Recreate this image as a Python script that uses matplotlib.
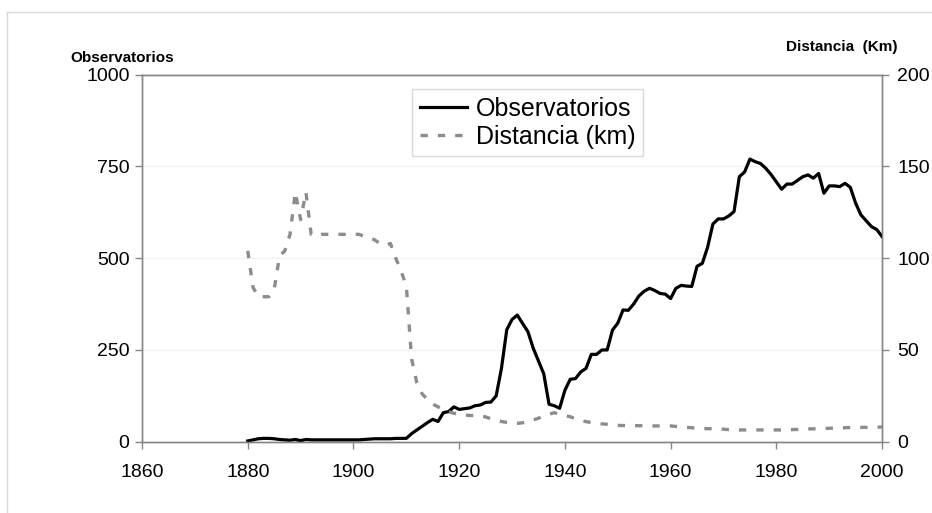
import numpy as np
import matplotlib
matplotlib.use("Agg")
import matplotlib.pyplot as plt
from matplotlib.lines import Line2D

plt.rcParams['font.family'] = ['Liberation Sans', 'DejaVu Sans']

years = list(range(1880, 2001))

# numero de observatorios (eje izquierdo)
observatorios = [
    2, 5, 8, 9, 9, 8, 6, 5, 4, 6,            # 1880-1889
    3, 6, 5, 5, 5, 5, 5, 5, 5, 5,            # 1890-1899
    5, 5, 6, 7, 8, 8, 8, 8, 9, 9,            # 1900-1909
    9, 22, 32, 42, 52, 61, 55, 79, 82, 95,   # 1910-1919
    88, 90, 92, 98, 100, 107, 108, 125, 200, 305,   # 1920-1929
    333, 345, 322, 300, 255, 220, 185, 102, 98, 91,  # 1930-1939
    140, 170, 172, 190, 200, 238, 238, 250, 250, 304,  # 1940-1949
    323, 359, 358, 375, 397, 410, 418, 412, 404, 402,  # 1950-1959
    390, 418, 426, 424, 423, 478, 486, 530, 593, 607,  # 1960-1969
    607, 615, 627, 722, 735, 770, 763, 758, 745, 728,  # 1970-1979
    708, 688, 702, 702, 712, 722, 727, 718, 731, 677,  # 1980-1989
    697, 697, 695, 704, 693, 650, 618, 602, 586, 578,  # 1990-1999
    559,                                               # 2000
]

# distancia media en km (eje derecho)
distancia = [
    104, 84, 79, 79, 79, 83, 101, 104, 113, 136,
    121, 136, 113, 112, 113, 113, 113, 113, 113, 113,
    113, 113, 112, 111, 110, 108, 107, 108, 100, 93,
    85, 45, 32, 26, 23, 20.5, 19, 17.5, 16.3, 15.5,
    15, 14.5, 14.3, 14.2, 14, 13.5, 12.5, 11.5, 11, 10.5,
    10, 10, 10.3, 11, 11.8, 12.8, 14, 15, 15.8, 15,
    14.3, 13.6, 12.5, 11.7, 10.9, 10.5, 10, 9.7, 9.5, 9.2,
    8.9, 8.8, 8.8, 8.8, 8.7, 8.7, 8.6, 8.6, 8.6, 8.6,
    8.6, 8.3, 8, 7.8, 7.6, 7.4, 7.2, 7.1, 7, 6.9,
    6.8, 6.6, 6.5, 6.4, 6.4, 6.4, 6.4, 6.4, 6.4, 6.4,
    6.4, 6.4, 6.5, 6.6, 6.7, 6.9, 7, 7, 7.1, 7.2,
    7.3, 7.4, 7.5, 7.6, 7.7, 7.8, 7.8, 7.8, 7.8, 7.9,
    8,
]

x_ticks = [1860, 1880, 1900, 1920, 1940, 1960, 1980, 2000]
y_ticks_izq = [0, 250, 500, 750, 1000]
y_ticks_der = [0, 50, 100, 150, 200]

gris = '#868686'

fig = plt.figure(figsize=(9.32, 5.13), dpi=100)
ax = fig.add_axes([0.1524, 0.139, 0.794, 0.7154])
ax2 = ax.twinx()

ax.plot(years, observatorios, color='black', lw=2.3, solid_joinstyle='round', zorder=3)
ax2.plot(years, distancia, color='#8c8c8c', lw=2.4, dashes=(2.2, 3.0), zorder=2)

ax.set_xlim(1860, 2000)
ax.set_ylim(0, 1000)
ax2.set_ylim(0, 200)
ax.set_xticks(x_ticks)
ax.set_yticks(y_ticks_izq)
ax2.set_yticks(y_ticks_der)

for a in (ax, ax2):
    for s in a.spines.values():
        s.set_color(gris)
        s.set_linewidth(1)
    a.tick_params(direction='out', length=5, color=gris, labelsize=14, width=1)

ax.tick_params(axis='x', pad=11)
ax.tick_params(axis='y', pad=4)
ax2.tick_params(axis='y', pad=6)

for v in [250, 500, 750]:
    ax.axhline(v, color='#f0f0f0', lw=1, zorder=0)

fig.text(70 / 932, 1 - 58 / 513, 'Observatorios', fontsize=11, fontweight='bold',
         ha='left', va='center')
fig.text(898 / 932, 1 - 47 / 513, 'Distancia  (Km)', fontsize=11, fontweight='bold',
         ha='right', va='center')

handles = [Line2D([], [], color='black', lw=2.3),
           Line2D([], [], color='#8c8c8c', lw=2.4, dashes=(2.2, 3.0))]
leg = ax.legend(handles, ['Observatorios', 'Distancia (km)'], loc='upper left',
                bbox_to_anchor=(0.365, 0.96), fontsize=18, frameon=True,
                fancybox=False, edgecolor='#d9d9d9', framealpha=1,
                handlelength=1.9, handletextpad=0.35, borderpad=0.3,
                labelspacing=0.15, borderaxespad=0)
leg.get_frame().set_linewidth(1)

# marco exterior del grafico
fig.add_artist(Line2D([7 / 932, 1], [1 - 12 / 513, 1 - 12 / 513],
                      transform=fig.transFigure, color='#d9d9d9', lw=1))
fig.add_artist(Line2D([7 / 932, 7 / 932], [0, 1 - 12 / 513],
                      transform=fig.transFigure, color='#d9d9d9', lw=1))

fig.savefig('out.png', dpi=100)
